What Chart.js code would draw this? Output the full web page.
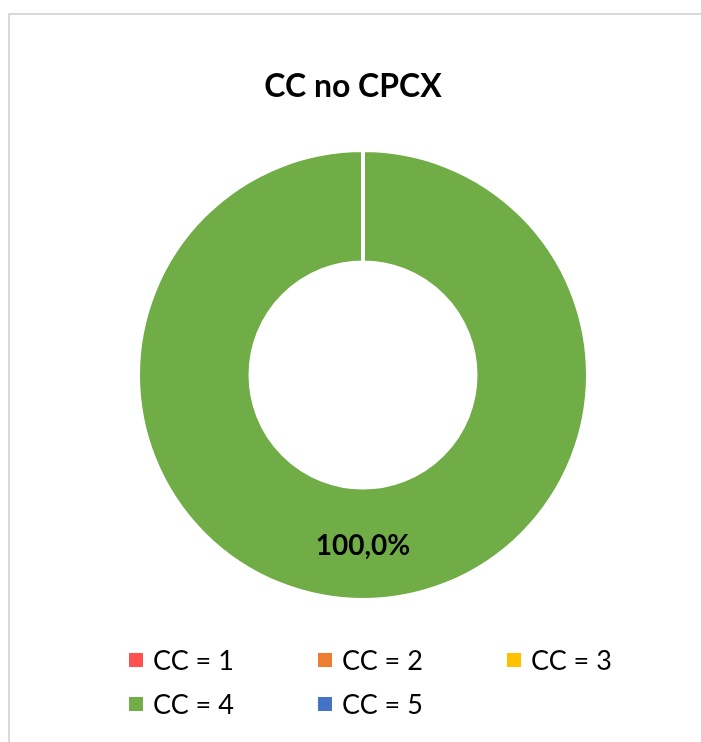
<!DOCTYPE html>
<html>
<head>
<meta charset="utf-8">
<script src="https://cdn.jsdelivr.net/npm/chart.js@4.4.1/dist/chart.umd.min.js"></script>
<style>
    body { margin: 0; background: #fff; }
    #wrap { position: relative; width: 701px; height: 742px; overflow: hidden; font-family: Lato, "Noto Sans", sans-serif; }
    #frame { position: absolute; left: 8px; top: 13px; width: 720px; height: 760px; border: 2px solid #d9d9d9; box-sizing: border-box; }
    #chart-box { position: absolute; left: 0; top: 0; width: 701px; height: 742px; }
    #title { position: absolute; left: 0; top: 69px; width: 706px; text-align: center; font-weight: bold; font-size: 32px; line-height: 32px; color: #000; }
    #legend { position: absolute; left: 129px; top: 638px; display: grid; grid-template-columns: 189px 189px 189px; }
    .legend-item { display: flex; align-items: center; height: 44px; line-height: 44px; font-size: 27px; color: #000; }
    .legend-item span.box { width: 14px; height: 14px; margin-right: 10px; flex: none; }
</style>
</head>
<body>
<div id="wrap">
    <div id="frame"></div>
    <div id="chart-box"><canvas id="donutChart"></canvas></div>
    <div id="title"></div>
    <div id="legend"></div>
</div>
<script>
// Chart data
const chartTitle = 'CC no CPCX';
const categories = ['CC = 1', 'CC = 2', 'CC = 3', 'CC = 4', 'CC = 5'];
const shares = [0, 0, 0, 100, 0];
const sliceColors = ['#ff5050', '#ed7d31', '#ffc000', '#70ad47', '#4472c4'];

document.getElementById('title').textContent = chartTitle;

// Build legend (Excel style grid, 3 columns)
const legendEl = document.getElementById('legend');
categories.forEach((label, i) => {
    const item = document.createElement('div');
    item.className = 'legend-item';
    const box = document.createElement('span');
    box.className = 'box';
    box.style.background = sliceColors[i];
    item.appendChild(box);
    item.appendChild(document.createTextNode(label));
    legendEl.appendChild(item);
});

/* ------------------ DATA LABELS ------------------ */
const percentLabels = {
    id: 'percentLabels',
    afterDatasetsDraw(chart) {
        const ctx = chart.ctx;
        const meta = chart.getDatasetMeta(0);
        const data = chart.data.datasets[0].data;
        const total = data.reduce((a, b) => a + b, 0);
        ctx.save();
        ctx.font = 'bold 28px Lato, "Noto Sans", sans-serif';
        ctx.fillStyle = '#000';
        ctx.textAlign = 'center';
        ctx.textBaseline = 'middle';
        meta.data.forEach((arc, i) => {
            if (!data[i]) return;
            const pos = arc.tooltipPosition();
            const text = (data[i] / total * 100).toFixed(1).replace('.', ',') + '%';
            ctx.fillText(text, pos.x, pos.y + 2);
        });
        ctx.restore();
    }
};

new Chart(document.getElementById('donutChart'), {
    type: 'doughnut',
    data: {
        labels: categories,
        datasets: [{
            data: shares,
            backgroundColor: sliceColors,
            borderColor: '#ffffff',
            borderWidth: 4
        }]
    },
    options: {
        responsive: true,
        maintainAspectRatio: false,
        animation: false,
        cutout: '50%',
        layout: {
            padding: { left: 136, right: 111, top: 148, bottom: 140 }
        },
        plugins: {
            legend: { display: false },
            title: { display: false },
            tooltip: { enabled: false }
        }
    },
    plugins: [percentLabels]
});
</script>
</body>
</html>
